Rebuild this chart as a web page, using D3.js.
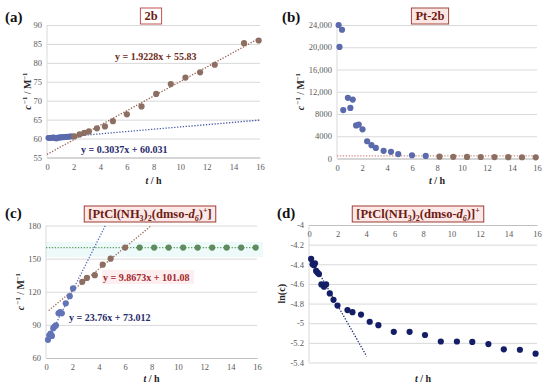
<!DOCTYPE html>
<html><head><meta charset="utf-8">
<script src="https://cdn.jsdelivr.net/npm/d3@7"></script>
<style>body{margin:0;background:#fff} svg{display:block}</style>
</head><body>
<svg id="chart" width="550" height="388"></svg>
<script>
// ---------- data ----------
const xTicks = [0, 2, 4, 6, 8, 10, 12, 14, 16];

// (a) 2b
const aTicksY = [55, 60, 65, 70, 75, 80, 85, 90];
const aBlueT = [0.1, 0.17, 0.25, 0.33, 0.4, 0.47, 0.55, 0.62, 0.7, 0.78, 0.85, 0.93, 1.0, 1.08, 1.16, 1.24, 1.32, 1.4, 1.5, 1.6, 1.7, 1.8, 1.9];
const aBlueY = [60.2, 60.15, 60.2, 60.25, 60.2, 60.3, 60.25, 60.1, 60.0, 60.2, 60.3, 60.25, 60.35, 60.3, 60.4, 60.35, 60.45, 60.4, 60.5, 60.45, 60.55, 60.6, 60.6];
const aBrownT = [2.05, 2.45, 2.8, 3.15, 3.75, 4.35, 4.95, 6.0, 7.1, 8.2, 9.3, 10.4, 11.5, 12.6, 14.8, 15.9];
const aBrownY = [60.6, 61.1, 61.5, 61.9, 62.7, 63.2, 64.6, 66.4, 68.5, 71.8, 74.4, 76.1, 77.5, 79.5, 85.2, 85.9];
const aFitBrown = [1.9228, 55.83];
const aFitBlue = [0.3037, 60.031];

// (b) Pt-2b
const bTicksY = [0, 4000, 8000, 12000, 16000, 20000, 24000];
const bTickLabels = ["0", "4000", "8000", "12,000", "16,000", "20,000", "24,000"];
const bBlueT = [0.13, 0.2, 0.4, 0.5, 0.87, 1.07, 1.26, 1.53, 1.74, 2.04, 2.41, 2.76, 3.11, 3.73, 4.32, 4.9, 6.0, 7.1];
const bBlueY = [24000, 20050, 23150, 8700, 10900, 9100, 10600, 5950, 6100, 5250, 3100, 2400, 1900, 1380, 1200, 790, 580, 460];
const bBrownT = [8.2, 9.3, 10.4, 11.5, 12.6, 13.7, 14.8, 15.9];
const bBrownY = [330, 310, 290, 270, 255, 240, 225, 210];
const bLevel = 470;

// (c) [PtCl(NH3)2(dmso-d6)+]
const cTicksY = [60, 90, 120, 150, 180];
const cBlueT = [0.15, 0.25, 0.35, 0.45, 0.55, 0.65, 0.75, 0.95, 1.07, 1.2, 1.5, 1.8, 2.05];
const cBlueY = [76.5, 80.5, 82, 80, 87, 88.5, 89.5, 100.5, 101.5, 100.5, 109.5, 116, 123];
const cBrownT = [2.75, 3.1, 3.7, 4.3, 4.9, 6.0];
const cBrownY = [129, 132.5, 135, 144.5, 150, 160];
const cGreenT = [7.1, 8.2, 9.3, 10.4, 11.5, 12.6, 13.7, 14.8, 15.9];
const cGreenY = [160, 160, 160, 160, 160, 160, 160, 160, 160];
const cFitBlue = [23.76, 73.012];
const cFitBrown = [9.8673, 101.08];
const cLevel = 160;

// (d) ln(c)
const dTicksY = [-5.4, -5.2, -5, -4.8, -4.6, -4.4, -4.2, -4];
const dT = [0.15, 0.25, 0.35, 0.42, 0.5, 0.6, 0.7, 0.87, 1.05, 1.2, 1.46, 1.72, 2.0, 2.7, 3.05, 3.65, 4.26, 4.87, 5.95, 7.06, 8.14, 9.25, 10.38, 11.46, 12.59, 13.67, 14.8, 15.9];
const dY = [-4.345, -4.4, -4.41, -4.39, -4.468, -4.485, -4.5, -4.605, -4.628, -4.605, -4.697, -4.762, -4.82, -4.866, -4.888, -4.912, -4.985, -5.02, -5.088, -5.088, -5.12, -5.186, -5.186, -5.19, -5.212, -5.266, -5.27, -5.31];
const dFit = [-0.2537, -4.31];

// ---------- drawing ----------
const svg = d3.select("#chart");
const SERIF = "'Liberation Serif','Times New Roman',serif";
const C = {
  grid: "#d9d9d9", axis: "#bfbfbf", tick: "#595959",
  blue: "#5b6aad", brown: "#8c6f62", green: "#5f8c5f", navy: "#141e66",
  eqBrown: "#6e2a18", eqRed: "#a3282a", eqNavy: "#1f2a6b", title: "#6e1c12"
};

function panel(cfg) {
  const g = svg.append("g");
  const x = d3.scaleLinear().domain([0, 16]).range([cfg.x0, cfg.x1]);
  const y = d3.scaleLinear().domain(cfg.yDom).range([cfg.y0, cfg.y1]);
  // grid + y labels
  const ga = g.append("g").attr("transform", `translate(${cfg.x0},0)`)
    .call(d3.axisLeft(y).tickValues(cfg.yTicks).tickSize(-(cfg.x1 - cfg.x0)).tickPadding(5)
      .tickFormat((d, i) => cfg.yLabels ? cfg.yLabels[i] : String(d)));
  ga.select(".domain").remove();
  ga.selectAll("line").attr("stroke", C.grid).attr("stroke-width", 1);
  ga.selectAll("text").attr("fill", C.tick).attr("font-family", SERIF).attr("font-size", 8.5);
  // vertical axis line
  g.append("line").attr("x1", cfg.x0).attr("x2", cfg.x0).attr("y1", y(cfg.yDom[0])).attr("y2", y(cfg.yDom[1]))
    .attr("stroke", C.grid);
  // x axis
  const xa = g.append("g").attr("transform", `translate(0,${y(cfg.xAt)})`)
    .call(d3.axisBottom(x).tickValues(xTicks).tickSize(0).tickPadding(cfg.xPad || 6));
  xa.select(".domain").attr("stroke", C.axis).attr("stroke-width", 1);
  xa.selectAll("text").attr("fill", C.tick).attr("font-family", SERIF).attr("font-size", 8.5);
  // axis title x
  const tx = g.append("text").attr("x", (cfg.x0 + cfg.x1) / 2).attr("y", cfg.xTitleY)
    .attr("text-anchor", "middle").attr("font-family", SERIF).attr("font-weight", "bold")
    .attr("font-size", 10).attr("fill", "#262626");
  tx.append("tspan").attr("font-style", "italic").text("t");
  tx.append("tspan").text(" / h");
  // y title
  const ty = g.append("text").attr("transform", `translate(${cfg.yTitleX},${(cfg.y0 + cfg.y1) / 2}) rotate(-90)`)
    .attr("text-anchor", "middle").attr("font-family", SERIF).attr("font-weight", "bold")
    .attr("font-size", 10).attr("fill", "#262626");
  if (cfg.yTitle === "ln") {
    ty.text("ln(c)");
  } else {
    ty.append("tspan").attr("font-style", "italic").text("c");
    ty.append("tspan").attr("font-size", 6.5).attr("dy", -4).text(" \u22121");
    ty.append("tspan").attr("dy", 4).text(" / M");
    ty.append("tspan").attr("font-size", 6.5).attr("dy", -4).text("\u22121");
  }
  return { g, x, y };
}

function dotted(p, fit, t0, t1, color) {
  const line = d3.line().x(d => p.x(d)).y(d => p.y(fit[0] * d + fit[1]));
  p.g.append("path").attr("d", line([t0, t1])).attr("fill", "none")
    .attr("stroke", color).attr("stroke-width", 1.3).attr("stroke-dasharray", "1.3,1.6");
}
function points(p, ts, ys, color, r) {
  p.g.append("g").selectAll("circle").data(ts).join("circle")
    .attr("cx", d => p.x(d)).attr("cy", (d, i) => p.y(ys[i])).attr("r", r || 3.1).attr("fill", color);
}
function label(txt, x, y) {
  svg.append("text").attr("x", x).attr("y", y).attr("font-family", SERIF).attr("font-weight", "bold")
    .attr("font-size", 15).attr("fill", "#111").text(txt);
}
function eq(txt, x, y, color) {
  svg.append("text").attr("x", x).attr("y", y).attr("font-family", SERIF).attr("font-weight", "bold")
    .attr("font-size", 10).attr("fill", color).text(txt);
}
function titleBox(cx, y0, h, build, fill, stroke) {
  const g = svg.append("g");
  const rect = g.append("rect").attr("y", y0).attr("height", h).attr("fill", fill).attr("stroke", stroke).attr("stroke-width", 1);
  const t = g.append("text").attr("x", cx).attr("y", y0 + h - 4).attr("text-anchor", "middle")
    .attr("font-family", SERIF).attr("font-weight", "bold").attr("font-size", 12.5).attr("fill", C.title);
  build(t);
  const w = t.node().getComputedTextLength() + 8;
  rect.attr("x", cx - w / 2).attr("width", w);
}
function ptTitle(t, plusInside) {
  t.append("tspan").text("[PtCl(NH");
  t.append("tspan").attr("font-size", 8).attr("dy", 3).text("3");
  t.append("tspan").attr("dy", -3).text(")");
  t.append("tspan").attr("font-size", 8).attr("dy", 3).text("2");
  t.append("tspan").attr("dy", -3).text("(dmso-");
  t.append("tspan").attr("font-style", "italic").text("d");
  t.append("tspan").attr("font-size", 8).attr("font-style", "italic").attr("dy", 3).text("6");
  if (plusInside) {
    t.append("tspan").attr("dy", -3).text(")");
    t.append("tspan").attr("font-size", 8).attr("dy", -5).text("+");
    t.append("tspan").attr("dy", 5).text("]");
  } else {
    t.append("tspan").attr("dy", -3).text(")]");
    t.append("tspan").attr("font-size", 8).attr("dy", -5).text("+");
  }
}

// ----- (a)
const pa = panel({ x0: 47, x1: 260, y0: 157.5, y1: 25, yDom: [55, 90], yTicks: aTicksY, xAt: 55, xTitleY: 184, yTitleX: 31 });
dotted(pa, aFitBlue, 0, 16, "#4a5aa8");
dotted(pa, aFitBrown, 0, 16, "#9a5e4e");
points(pa, aBlueT, aBlueY, C.blue, 2.9);
points(pa, aBrownT, aBrownY, C.brown, 3.1);
eq("y = 1.9228x + 55.83", 115, 60, C.eqBrown);
eq("y = 0.3037x + 60.031", 81, 153, C.eqNavy);
label("(a)", 5, 22);
titleBox(151, 8, 16, t => t.text("2b"), "#fff", "#c0504d");

// ----- (b)
const pb = panel({ x0: 337, x1: 537, y0: 158.5, y1: 25, yDom: [0, 24000], yTicks: bTicksY, yLabels: bTickLabels, xAt: 0, xTitleY: 184, yTitleX: 304 });
dotted(pb, [0, bLevel], 0, 16, "#d08a80");
points(pb, bBlueT, bBlueY, C.blue, 3.1);
points(pb, bBrownT, bBrownY, C.brown, 3.1);
label("(b)", 282, 22);
titleBox(430, 8, 16, t => t.text("Pt-2b"), "#fbe6e4", "#a0463c");

// ----- (c)
svg.append("rect").attr("x", 46).attr("y", 242).attr("width", 217).attr("height", 15).attr("fill", "#eefafa");
svg.append("rect").attr("x", 102).attr("y", 270).attr("width", 92).attr("height", 14).attr("fill", "#fdeef0");
const pc = panel({ x0: 46, x1: 257, y0: 358, y1: 225.5, yDom: [60, 180], yTicks: cTicksY, xAt: 60, xTitleY: 382, yTitleX: 24 });
dotted(pc, [0, cLevel], 0, 16, "#5e9c5e");
dotted(pc, cFitBlue, 0.1, (180 - cFitBlue[1]) / cFitBlue[0], "#5a6ab8");
dotted(pc, cFitBrown, 0.2, (180 - cFitBrown[1]) / cFitBrown[0], "#9b6a5a");
points(pc, cBlueT, cBlueY, "#6274b6", 3.1);
points(pc, cBrownT, cBrownY, C.brown, 3.1);
points(pc, cGreenT, cGreenY, C.green, 3.1);
eq("y = 9.8673x + 101.08", 103, 281, C.eqRed);
eq("y = 23.76x + 73.012", 69, 320.5, C.eqNavy);
label("(c)", 5, 218);
titleBox(150, 206, 16, t => ptTitle(t, true), "#fde8e8", "#9b3b30");

// ----- (d)
const pd = panel({ x0: 309, x1: 537, y0: 362.5, y1: 225, yDom: [-5.4, -4], yTicks: dTicksY, xAt: -4, xPad: 6, xTitleY: 382, yTitleX: 285, yTitle: "ln" });
dotted(pd, dFit, 0.3, 4.05, "#1a2a6a");
points(pd, dT, dY, C.navy, 3.1);
label("(d)", 277, 218);
titleBox(418, 206, 16, t => ptTitle(t, false), "#fde8e8", "#9b3b30");
</script>
</body></html>
